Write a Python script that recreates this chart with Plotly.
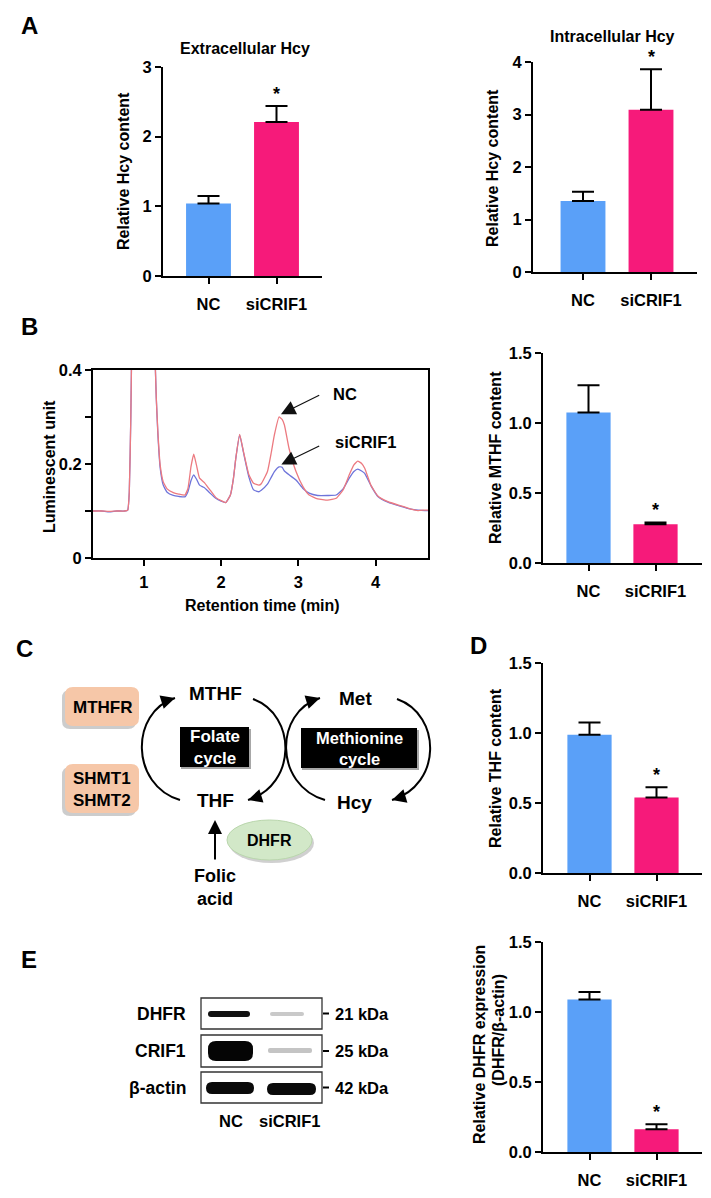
import plotly.graph_objects as go

# ---------------- data ----------------
groups = ["NC", "siCRIF1"]

extra_hcy = [1.04, 2.21]
extra_hcy_err = [0.11, 0.23]
intra_hcy = [1.35, 3.09]
intra_hcy_err = [0.18, 0.77]
mthf = [1.075, 0.276]
mthf_err = [0.195, 0.014]
thf = [0.987, 0.54]
thf_err = [0.088, 0.072]
dhfr_expr = [1.09, 0.162]
dhfr_expr_err = [0.053, 0.036]

ret_time = [0.34, 0.45, 0.55, 0.65, 0.75, 0.79, 0.81, 0.83, 0.85, 0.90, 1.00, 1.10, 1.14,
            1.16, 1.18, 1.21, 1.25, 1.30, 1.38, 1.45, 1.53, 1.57, 1.61, 1.645, 1.68, 1.72,
            1.78, 1.85, 1.93, 2.00, 2.06, 2.12, 2.16, 2.19, 2.24, 2.29, 2.36, 2.42, 2.49,
            2.52, 2.60, 2.65, 2.69, 2.75, 2.79, 2.82, 2.88, 2.97, 3.06, 3.14, 3.25, 3.38,
            3.49, 3.58, 3.66, 3.72, 3.77, 3.82, 3.86, 3.94, 4.03, 4.16, 4.33, 4.46, 4.55,
            4.64, 4.68]
signal_nc = [0.100, 0.100, 0.099, 0.100, 0.100, 0.102, 0.14, 0.30, 0.55, 0.90, 1.00, 0.80, 0.45,
             0.34, 0.27, 0.198, 0.162, 0.147, 0.139, 0.136, 0.134, 0.148, 0.195, 0.221, 0.198, 0.170,
             0.161, 0.146, 0.129, 0.122, 0.118, 0.134, 0.170, 0.212, 0.263, 0.226, 0.177, 0.159, 0.155,
             0.158, 0.184, 0.225, 0.262, 0.300, 0.295, 0.283, 0.233, 0.184, 0.152, 0.134, 0.126, 0.123,
             0.127, 0.145, 0.177, 0.198, 0.206, 0.201, 0.191, 0.155, 0.132, 0.120, 0.111, 0.104, 0.101,
             0.102, 0.102]
signal_si = [0.100, 0.100, 0.098, 0.100, 0.100, 0.102, 0.14, 0.30, 0.55, 0.90, 1.00, 0.80, 0.45,
             0.34, 0.265, 0.192, 0.155, 0.140, 0.133, 0.131, 0.130, 0.141, 0.165, 0.177, 0.168, 0.155,
             0.150, 0.139, 0.127, 0.121, 0.118, 0.134, 0.170, 0.212, 0.262, 0.224, 0.172, 0.145, 0.141,
             0.144, 0.157, 0.172, 0.184, 0.194, 0.193, 0.185, 0.177, 0.166, 0.148, 0.138, 0.133, 0.133,
             0.134, 0.147, 0.170, 0.184, 0.189, 0.185, 0.180, 0.154, 0.131, 0.119, 0.110, 0.104, 0.102,
             0.101, 0.101]

blot_proteins = ["DHFR", "CRIF1", "β-actin"]
blot_sizes = ["21 kDa", "25 kDa", "42 kDa"]

# ---------------- helpers ----------------
W, H = 711, 1198
FONT = "Liberation Sans, Arial, sans-serif"
BLUE = "#5AA0F8"
PINK = "#F61A7A"
TICK = 16.5
ATITLE = 16


def xd(a, b):
    return [a / W, b / W]


def yd(top, bot):
    return [1 - bot / H, 1 - top / H]


def f(size, color="black"):
    return dict(family=FONT, size=size, color=color, weight="bold")


def rrect(x0, y0, x1, y1, r):
    return (f"M {x0+r},{y0} L {x1-r},{y0} Q {x1},{y0} {x1},{y0+r} L {x1},{y1-r} "
            f"Q {x1},{y1} {x1-r},{y1} L {x0+r},{y1} Q {x0},{y1} {x0},{y1-r} "
            f"L {x0},{y0+r} Q {x0},{y0} {x0+r},{y0} Z")


fig = go.Figure()
layout = dict(width=W, height=H, margin=dict(l=0, r=0, t=0, b=0, pad=0, autoexpand=False),
              paper_bgcolor="white", plot_bgcolor="rgba(0,0,0,0)", template="none",
              showlegend=False, font=f(15))
annotations = []
shapes = []

# ---------------- bar panels ----------------
bar_panels = [
    dict(n=1, v=extra_hcy, e=extra_hcy_err, xpx=(163, 322), ypx=(67, 276), yr=[0, 3], dt=1, fmt="d", c=(208.5, 276.5)),
    dict(n=2, v=intra_hcy, e=intra_hcy_err, xpx=(533, 697), ypx=(62, 272), yr=[0, 4], dt=1, fmt="d", c=(583, 651)),
    dict(n=4, v=mthf, e=mthf_err, xpx=(543, 702), ypx=(353, 563), yr=[0, 1.5], dt=0.5, fmt=".1f", c=(588.5, 655.5)),
    dict(n=5, v=thf, e=thf_err, xpx=(543, 702), ypx=(663, 873), yr=[0, 1.5], dt=0.5, fmt=".1f", c=(589.5, 656.5)),
    dict(n=6, v=dhfr_expr, e=dhfr_expr_err, xpx=(543, 702), ypx=(942, 1152), yr=[0, 1.5], dt=0.5, fmt=".1f", c=(589.5, 656.5)),
]

for p in bar_panels:
    n = p["n"]
    c0, c1 = p["c"]
    x0, x1 = p["xpx"]
    unit = c1 - c0
    left = -(c0 - x0) / unit
    right = left + (x1 - x0) / unit
    fig.add_trace(go.Bar(
        x=[0, 1], y=p["v"], width=0.66, marker=dict(color=[BLUE, PINK], line=dict(width=0)),
        error_y=dict(type="data", symmetric=False, array=p["e"], arrayminus=[0, 0],
                     color="black", thickness=2, width=11),
        xaxis=f"x{n}", yaxis=f"y{n}", hoverinfo="skip"))
    layout[f"xaxis{n}"] = dict(domain=xd(x0, x1), anchor=f"y{n}", range=[left, right], automargin=False,
                               tickvals=[0, 1], ticktext=groups, showline=True, linecolor="black",
                               linewidth=2, ticks="outside", ticklen=6, tickwidth=2, tickcolor="black",
                               tickfont=f(TICK), showgrid=False, zeroline=False, ticklabelstandoff=6)
    layout[f"yaxis{n}"] = dict(domain=yd(*p["ypx"]), anchor=f"x{n}", range=p["yr"], dtick=p["dt"],
                               tick0=0, tickformat=p["fmt"], showline=True, linecolor="black", linewidth=2,
                               ticks="outside", ticklen=6, tickwidth=2, tickcolor="black", automargin=False,
                               tickfont=f(TICK), showgrid=False, zeroline=False)
    annotations.append(dict(x=1, y=p["v"][1] + p["e"][1], xref=f"x{n}", yref=f"y{n}", text="*",
                            showarrow=False, yanchor="bottom", font=f(18), yshift=0))

# ---------------- chromatogram ----------------
fig.add_trace(go.Scatter(x=ret_time, y=signal_si, mode="lines",
                         line=dict(color="#6E74DA", width=1.3, shape="spline", smoothing=0.4),
                         xaxis="x3", yaxis="y3", hoverinfo="skip"))
fig.add_trace(go.Scatter(x=ret_time, y=signal_nc, mode="lines",
                         line=dict(color="#EC7A80", width=1.3, shape="spline", smoothing=0.4),
                         xaxis="x3", yaxis="y3", hoverinfo="skip"))
layout["xaxis3"] = dict(domain=xd(93, 428), anchor="y3", range=[0.34, 4.68], tickvals=[1, 2, 3, 4],
                        showline=True, mirror=True, linecolor="black", linewidth=2, ticks="outside",
                        ticklen=6, tickwidth=2, tickcolor="black", tickfont=f(TICK), showgrid=False,
                        zeroline=False, ticklabelstandoff=2, automargin=False)
layout["yaxis3"] = dict(domain=yd(370, 558), anchor="x3", range=[0, 0.4], tickvals=[0, 0.1, 0.2, 0.3, 0.4],
                        ticktext=["0", "", "0.2", "", "0.4"], showline=True, mirror=True, linecolor="black",
                        linewidth=2, ticks="outside", ticklen=6, tickwidth=2, tickcolor="black",
                        tickfont=f(TICK), showgrid=False, zeroline=False, automargin=False)
annotations += [
    dict(x=2.775, y=0.306, ax=3.29, ay=0.348, xref="x3", yref="y3", axref="x3", ayref="y3", text="",
         showarrow=True, arrowhead=2, arrowsize=2.4, arrowwidth=1.2, arrowcolor="#111"),
    dict(x=2.78, y=0.199, ax=3.29, ay=0.240, xref="x3", yref="y3", axref="x3", ayref="y3", text="",
         showarrow=True, arrowhead=2, arrowsize=2.4, arrowwidth=1.2, arrowcolor="#111"),
    dict(x=3.42, y=0.350, xref="x3", yref="y3", text="NC", showarrow=False, xanchor="left", font=f(TICK)),
    dict(x=3.446, y=0.246, xref="x3", yref="y3", text="siCRIF1", showarrow=False, xanchor="left", font=f(TICK)),
]

# ---------------- pixel overlay axis for diagram / blot / labels ----------------
layout["xaxis7"] = dict(domain=[0, 1], range=[0, W], visible=False, anchor="y7", fixedrange=True, automargin=False)
layout["yaxis7"] = dict(domain=[0, 1], range=[H, 0], visible=False, anchor="x7", fixedrange=True, automargin=False)
fig.add_trace(go.Scatter(x=[0], y=[0], mode="markers", marker=dict(opacity=0), xaxis="x7", yaxis="y7",
                         hoverinfo="skip"))


def txt(x, y, s, size, color="black", angle=0, xanchor="center"):
    annotations.append(dict(x=x, y=y, xref="x7", yref="y7", text=s, showarrow=False, font=f(size, color),
                            textangle=angle, xanchor=xanchor, yanchor="middle"))


# panel letters
txt(29, 25, "A", 24)
txt(29, 326, "B", 24)
txt(24, 648, "C", 24)
txt(478, 645, "D", 24)
txt(29, 959, "E", 24)

# titles and axis titles
txt(245, 48, "Extracellular Hcy", 16)
txt(612, 36, "Intracellular Hcy", 16)
txt(123, 171, "Relative Hcy content", ATITLE, angle=-90)
txt(492, 168, "Relative Hcy content", ATITLE, angle=-90)
txt(49, 467, "Luminescent unit", ATITLE, angle=-90)
txt(262, 605, "Retention time (min)", ATITLE)
txt(495, 458, "Relative MTHF content", ATITLE, angle=-90)
txt(495, 768, "Relative THF content", ATITLE, angle=-90)
txt(479, 1045, "Relative DHFR expression", ATITLE, angle=-90)
txt(498, 1030, "(DHFR/β-actin)", ATITLE, angle=-90)

# ---- panel C diagram ----
PEACH = "#F6C7A8"
for (bx0, by0, bx1, by1) in [(65, 687, 139, 726), (65, 764, 139, 813)]:
    shapes.append(dict(type="path", path=rrect(bx0 - 3, by0 + 3, bx1 - 3, by1 + 3, 8), xref="x7", yref="y7",
                       fillcolor="rgba(110,110,110,0.35)", line=dict(width=0), layer="below"))
    shapes.append(dict(type="path", path=rrect(bx0, by0, bx1, by1, 8), xref="x7", yref="y7",
                       fillcolor=PEACH, line=dict(width=0)))
txt(102, 707, "MTHFR", 17)
txt(102, 789, "SHMT1<br>SHMT2", 17)

for (bx0, by0, bx1, by1) in [(180, 727, 249, 767), (301, 728, 417, 768)]:
    shapes.append(dict(type="rect", x0=bx0 + 1, y0=by0 + 2, x1=bx1 + 2, y1=by1 + 2, xref="x7", yref="y7",
                       fillcolor="rgba(80,80,80,0.5)", line=dict(width=0)))
    shapes.append(dict(type="rect", x0=bx0, y0=by0, x1=bx1, y1=by1, xref="x7", yref="y7",
                       fillcolor="black", line=dict(width=0)))
txt(214.5, 747, "Folate<br>cycle", 17, color="white")
txt(359, 748, "Methionine<br>cycle", 16.5, color="white")

txt(215, 693, "MTHF", 19)
txt(215, 800, "THF", 19)
txt(355, 698, "Met", 19)
txt(354, 802, "Hcy", 19)

arcs = [
    ((180, 800), (130, 785), (130, 712), (175, 698)),
    ((253, 699), (297, 715), (297, 785), (248, 800)),
    ((325, 800), (274, 785), (274, 712), (320, 698)),
    ((397, 699), (442, 715), (442, 785), (392, 800)),
]
for (p0, p1, p2, p3) in arcs:
    shapes.append(dict(type="path", xref="x7", yref="y7", line=dict(color="black", width=2),
                       path=f"M {p0[0]},{p0[1]} C {p1[0]},{p1[1]} {p2[0]},{p2[1]} {p3[0]},{p3[1]}"))
    dx, dy = p3[0] - p2[0], p3[1] - p2[1]
    L = (dx * dx + dy * dy) ** 0.5
    annotations.append(dict(x=p3[0], y=p3[1], xref="x7", yref="y7", ax=p3[0] - dx / L * 8,
                            ay=p3[1] - dy / L * 8, axref="x7", ayref="y7", text="", showarrow=True,
                            arrowhead=2, arrowsize=1.4, arrowwidth=2, arrowcolor="black"))

# folic acid arrow
annotations.append(dict(x=215, y=820, ax=215, ay=861, xref="x7", yref="y7", axref="x7", ayref="y7", text="",
                        showarrow=True, arrowhead=2, arrowsize=1.4, arrowwidth=2, arrowcolor="black"))
txt(215, 887, "Folic<br>acid", 18)

# DHFR ellipse
shapes.append(dict(type="circle", x0=229, y0=823, x1=314, y1=863, xref="x7", yref="y7",
                   fillcolor="rgba(120,120,120,0.35)", line=dict(width=0)))
shapes.append(dict(type="circle", x0=227, y0=820, x1=312, y1=860, xref="x7", yref="y7",
                   fillcolor="#D2E8C8", line=dict(color="#B9D6AC", width=1)))
txt(269, 840, "DHFR", 16)

# ---- panel E blot ----
box_rows = [(998, 1029), (1035, 1067), (1072, 1103)]
for i, (r0, r1) in enumerate(box_rows):
    shapes.append(dict(type="rect", x0=201, y0=r0, x1=322, y1=r1, xref="x7", yref="y7",
                       line=dict(color="#333", width=1.3), fillcolor="rgba(0,0,0,0)"))
    yc = (r0 + r1) / 2
    shapes.append(dict(type="line", x0=323, y0=yc, x1=329, y1=yc, xref="x7", yref="y7",
                       line=dict(color="black", width=2)))
    txt(188, yc, blot_proteins[i], 17.5, xanchor="right")
    txt(333, yc, blot_sizes[i], 16.5, xanchor="left")

bands = [
    (208, 1011, 250, 1017, 3, "#111"),
    (270, 1012, 304, 1016, 2, "#C9C9C9"),
    (208, 1041, 253, 1061, 8, "#050505"),
    (268, 1048, 312, 1053, 2, "#C4C4C4"),
    (206, 1082, 254, 1094, 6, "#0A0A0A"),
    (267, 1083, 316, 1095, 6, "#0A0A0A"),
]
for (bx0, by0, bx1, by1, r, col) in bands:
    shapes.append(dict(type="path", path=rrect(bx0, by0, bx1, by1, r), xref="x7", yref="y7",
                       fillcolor=col, line=dict(width=0)))
txt(231, 1121, groups[0], 16.5)
txt(289, 1121, groups[1], 16.5)

layout["annotations"] = annotations
layout["shapes"] = shapes
fig.update_layout(**layout)
fig.write_html("out.html", config={"displayModeBar": False, "staticPlot": True},
               post_script="document.body.style.margin='0px';")
